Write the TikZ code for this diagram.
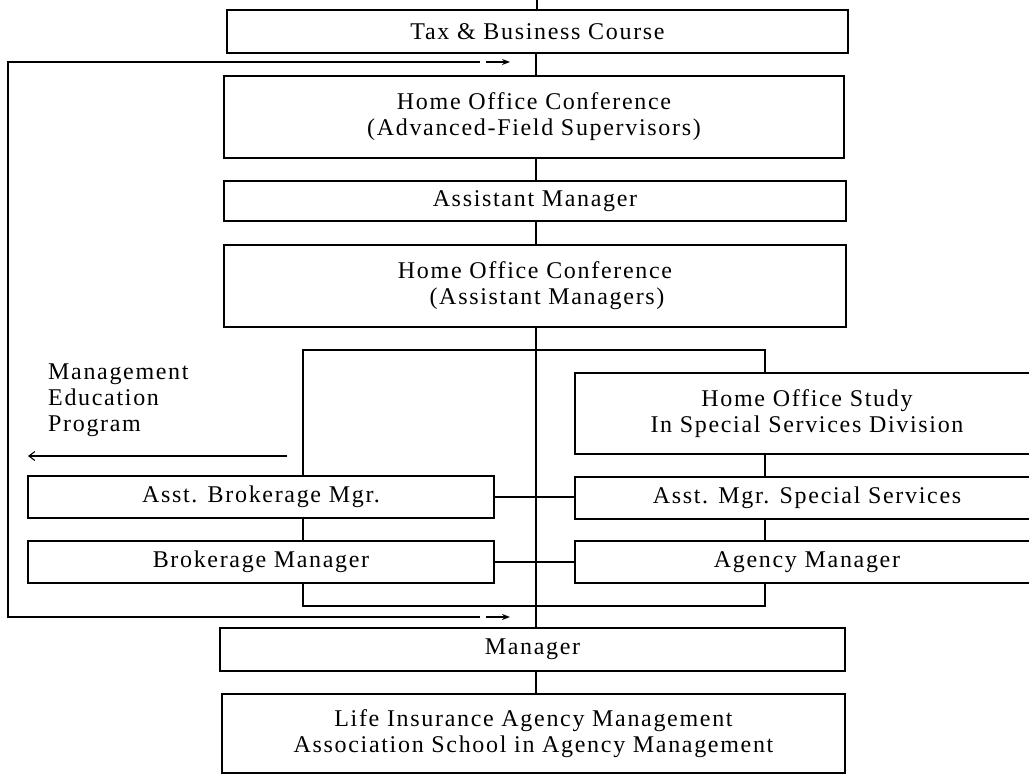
\documentclass[tikz,border=0pt]{standalone}
\usepackage{fontspec}
\setmainfont{Liberation Serif}[LetterSpace=7]
\usetikzlibrary{arrows.meta}
\begin{document}
\begin{tikzpicture}[x=1pt,y=-1pt,
  box/.style={draw, line width=2.8pt, inner sep=0pt, align=center,
              font=\fontsize{24}{26}\selectfont},
  conn/.style={line width=2.4pt},
  feed/.style={line width=1.4pt},
  fbtip/.style={feed, -{Stealth[length=8pt,width=6pt]}},
  lbl/.style={inner sep=0pt, align=left, font=\fontsize{24}{26}\selectfont}]
\useasboundingbox (0,0) rectangle (1029,774);

% main chain of stages
\node[box, minimum width=621pt, minimum height=43pt] (tax)  at (537.5,31.5) {Tax \& Business Course};
\node[box, minimum width=620pt, minimum height=82pt] (hoc1) at (534,117) {Home Office Conference\\(Advanced-Field Supervisors)};
\node[box, minimum width=622pt, minimum height=40pt] (am)   at (535,201) {Assistant Manager};
\node[box, minimum width=622pt, minimum height=82pt] (hoc2) at (535,286) {Home Office Conference\\\hspace*{24pt}(Assistant Managers)};

% brokerage branch
\node[box, minimum width=466pt, minimum height=42pt] (abm) at (261,497) {Asst. Brokerage Mgr.};
\node[box, minimum width=466pt, minimum height=42pt] (bm)  at (261,562) {Brokerage Manager};

% special services branch (runs off the right edge)
\node[box, minimum width=464pt, minimum height=81pt] (hoss) at (807,413.5) {Home Office Study\\In Special Services Division};
\node[box, minimum width=464pt, minimum height=42pt] (amss) at (807,498) {Asst. Mgr. Special Services};
\node[box, minimum width=464pt, minimum height=42pt] (agm)  at (807,562) {Agency Manager};

% bottom stages
\node[box, minimum width=625pt, minimum height=43pt] (mgr)  at (532.5,649.5) {Manager};
\node[box, minimum width=623pt, minimum height=79pt] (life) at (533.5,733.5) {Life Insurance Agency Management\\Association School in Agency Management};

% side label
\node[lbl, anchor=north west] (mep) at (48,364) {Management\\Education\\Program};

% helper coordinates
\coordinate (entry) at (537,0);
\coordinate (spine) at (536,0);
\coordinate (lcol)  at (303,0);
\coordinate (rcol)  at (765,0);
\coordinate (btop)  at (536,350);
\coordinate (bbot)  at (536,606);

% spine connectors
\draw[conn] (entry) -- (entry |- tax.north);
\draw[conn] (tax.south -| spine)  -- (hoc1.north -| spine);
\draw[conn] (hoc1.south -| spine) -- (am.north -| spine);
\draw[conn] (am.south -| spine)   -- (hoc2.north -| spine);
\draw[conn] (hoc2.south -| spine) -- (mgr.north -| spine);
\draw[conn] (mgr.south -| spine)  -- (life.north -| spine);

% bracket round the two branches
\draw[conn] (abm.north -| lcol) |- (btop) -| (hoss.north -| rcol);
\draw[conn] (abm.south -| lcol) -- (bm.north -| lcol);
\draw[conn] (bm.south -| lcol) |- (bbot) -| (agm.south -| rcol);
\draw[conn] (hoss.south -| rcol) -- (amss.north -| rcol);
\draw[conn] (amss.south -| rcol) -- (agm.north -| rcol);

% cross links between branches
\draw[conn] (abm.east) -- (abm.east -| amss.west);
\draw[conn] (bm.east)  -- (bm.east -| agm.west);

% feedback rail on the left
\coordinate (rt)  at (8,62);
\coordinate (rb)  at (8,617);
\coordinate (tg)  at (480,62);
\coordinate (ta0) at (486,62);
\coordinate (ta)  at (510,62);
\coordinate (bg)  at (480,617);
\coordinate (ba0) at (486,617);
\coordinate (ba)  at (510,617);
\draw[feed] (tg) -- (rt) -- (rb) -- (bg);
\draw[fbtip] (ta0) -- (ta);
\draw[fbtip] (ba0) -- (ba);

% management education arrow
\coordinate (mepa) at (287,456);
\coordinate (mepb) at (28,456);
\draw[line width=1.1pt, -{Straight Barb[length=6pt,width=9pt]}] (mepa) -- (mepb);
\end{tikzpicture}
\end{document}
